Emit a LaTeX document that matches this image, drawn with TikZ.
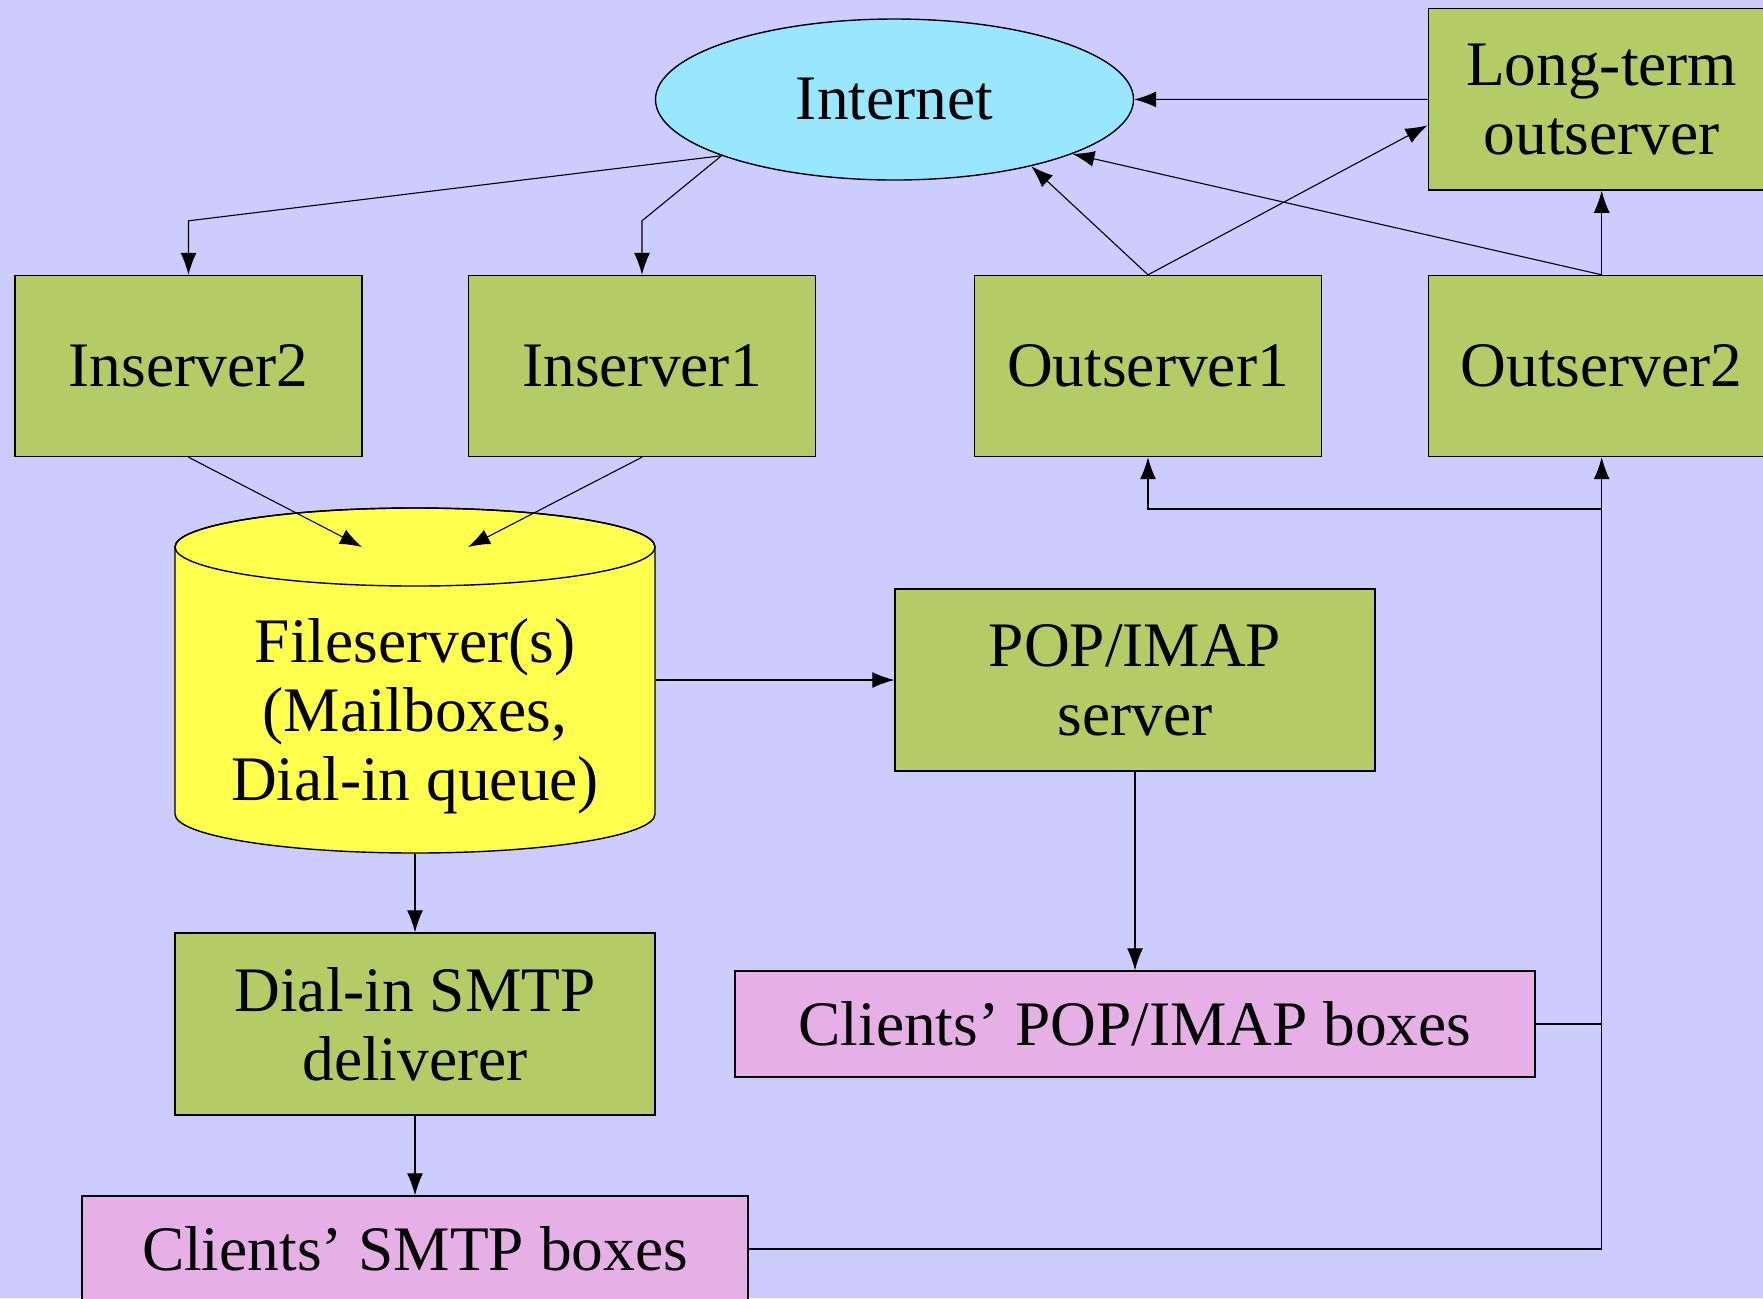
\documentclass[tikz,border=0pt]{standalone}
\usepackage{fontspec}
\setmainfont{Liberation Serif}
\usetikzlibrary{arrows.meta,shapes.geometric}
\definecolor{bgblue}{RGB}{204,204,255}
\definecolor{netcyan}{RGB}{153,230,255}
\definecolor{srvgreen}{RGB}{179,204,102}
\definecolor{fsyellow}{RGB}{255,255,77}
\definecolor{clientpink}{RGB}{230,176,230}
\begin{document}
\begin{tikzpicture}[x=0.5pt,y=0.5pt,->,>={Latex[length=11pt,width=8pt]},line width=0.55pt,
  every node/.style={font=\fontsize{31.7}{34.5}\selectfont,align=center,inner sep=0pt},
  srv/.style={rectangle,draw,line width=0.7pt,fill=srvgreen,minimum width=173.5pt,minimum height=90.5pt},
  wide/.style={srv,minimum width=240pt,minimum height=91pt},
  client/.style={rectangle,draw,line width=0.7pt,fill=clientpink,minimum height=53pt}]
\useasboundingbox (0,0) rectangle (1763,-1298);
\fill[bgblue] (0,0) rectangle (1763,-1298);
% fileserver cylinder
\draw[-,line width=0.7pt,fill=fsyellow] (175,-547) -- (175,-814)
  arc[start angle=180,end angle=360,x radius=240,y radius=39] -- (655,-547)
  arc[start angle=0,end angle=180,x radius=240,y radius=39] -- cycle;
\draw[-,line width=0.7pt] (415,-547) ellipse[x radius=240,y radius=39];
\coordinate (fstop) at (415,-547);
\node[ellipse,draw,line width=0.7pt,fill=netcyan,minimum width=239pt,minimum height=80.5pt] (net) at (894.5,-99.5) {Internet};
\node[srv,minimum height=90.75pt] (lto) at (1601.7,-99.3) {Long-term\\outserver};
\node[srv] (in2) at (188.5,-366) {Inserver2};
\node[srv] (in1) at (642,-366) {Inserver1};
\node[srv] (out1) at (1148,-366) {Outserver1};
\node[srv] (out2) at (1601.7,-366) {Outserver2};
\node[minimum width=240pt,minimum height=137pt] (fs) at (415,-716) {Fileserver(s)\\(Mailboxes,\\Dial-in queue)};
\node[wide] (pop) at (1135,-680) {POP/IMAP\\server};
\node[wide] (dial) at (415,-1024) {Dial-in SMTP\\deliverer};
\node[client,minimum width=400pt] (popc) at (1135,-1024) {Clients’ POP/IMAP boxes};
\node[client,minimum width=333pt] (smtpc) at (415,-1249) {Clients’ SMTP boxes};
\coordinate (split) at (1601.7,-509);
\path (lto) edge (net)
      (out2) edge (lto)
      (out1.north) edge ([yshift=-13pt]lto.west)
      (out1.north) edge (net.-26)
      (out2.north) edge (net.-17)
      (in2.south) edge ([xshift=-26.5pt]fstop)
      (in1.south) edge ([xshift=26.5pt]fstop)
      (fs.east |- pop.west) edge (pop.west)
      (fs) edge (dial)
      (dial) edge (smtpc)
      (pop) edge (popc)
;
\draw (net.198) -- ([yshift=27pt]in2.north) -- (in2.north);
\draw (net.198) -- ([yshift=27pt]in1.north) -- (in1.north);
\draw (smtpc.east) -| (out2.south);
\draw[-] (popc.east) -- (popc.east -| out2.south);
\draw (split) -| (out1.south);
\end{tikzpicture}
\end{document}
